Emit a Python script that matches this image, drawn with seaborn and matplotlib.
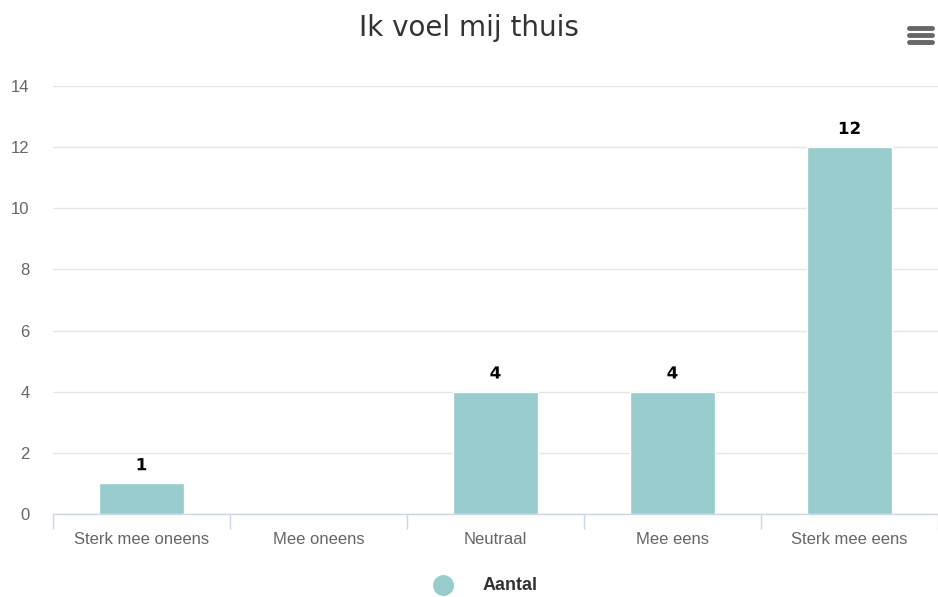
import matplotlib
matplotlib.use("Agg")
import matplotlib.pyplot as plt
import matplotlib.patheffects as pe
from matplotlib.lines import Line2D
import seaborn as sns
import pandas as pd
import numpy as np

categories = ["Sterk mee oneens", "Mee oneens", "Neutraal", "Mee eens", "Sterk mee eens"]
values = [1, 0, 4, 4, 12]
yticks = [0, 2, 4, 6, 8, 10, 12, 14]
title = "Ik voel mij thuis"
series_name = "Aantal"

bar_color = "#99cccc"

sns.set_theme(style="white")
plt.rcParams["font.family"] = ["Liberation Sans", "DejaVu Sans"]

fig = plt.figure(figsize=(9.38, 5.97), dpi=100)
ax = fig.add_axes([53/938, 1-514/597, 885/938, (514-86)/597])

df = pd.DataFrame({"cat": categories, "val": values})
sns.barplot(data=df, x="cat", y="val", color=bar_color, width=0.48, ax=ax,
            saturation=1, edgecolor="white", linewidth=1)

ax.set_xlim(-0.5, 4.5)
ax.set_ylim(0, 14)
ax.set_yticks(yticks)
ax.yaxis.grid(True, color="#e6e6e6", linewidth=1)
ax.set_axisbelow(True)
for s in ["top", "right", "left"]:
    ax.spines[s].set_visible(False)
ax.spines["bottom"].set_color("#ccd6eb")
ax.spines["bottom"].set_linewidth(1)
ax.set_xlabel("")
ax.set_ylabel("")
ax.tick_params(axis="y", length=0, labelsize=12, labelcolor="#666666", pad=17)
ax.tick_params(axis="x", which="major", length=0, labelsize=12, labelcolor="#666666", pad=13)
ax.set_xticks(np.arange(-0.5, 5.0, 1.0), minor=True)
ax.tick_params(axis="x", which="minor", bottom=True, length=11, color="#ccd6eb",
               width=1, direction="out")

for i, v in enumerate(values):
    if v > 0:
        ax.text(i, v + 0.3, str(v), ha="center", va="bottom", fontsize=12,
                fontweight="bold", color="black", family=["DejaVu Sans"],
                path_effects=[pe.withStroke(linewidth=2, foreground="white")])

fig.text(0.5, 1-28/597, title, ha="center", va="center", fontsize=20,
         color="#333333", family=["DejaVu Sans"])

# legend
fig.add_artist(Line2D([443/938], [1-585/597], marker="o", markersize=14,
                      color=bar_color, linestyle="none", transform=fig.transFigure))
fig.text(483/938, 1-586/597, series_name, ha="left", va="center", fontsize=13,
         fontweight="bold", color="#333333")

# menu icon
for yy in [28, 35, 42]:
    fig.add_artist(Line2D([909/938, 932/938], [1-yy/597, 1-yy/597], color="#666666",
                          linewidth=3.5, solid_capstyle="round", transform=fig.transFigure))

fig.savefig("out.png", dpi=100)
